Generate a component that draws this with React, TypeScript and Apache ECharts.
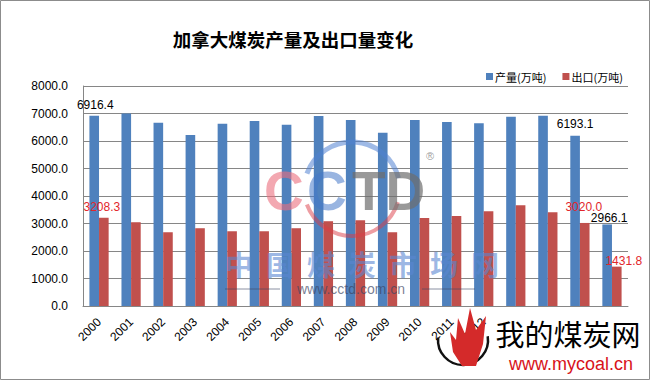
import React, { useEffect, useRef } from "react";
import * as echarts from "echarts";

const years = ["2000","2001","2002","2003","2004","2005","2006","2007","2008","2009","2010","2011","2012","2013","2014","2015","2016"];
const production = [6916.4, 7003, 6663, 6214, 6626, 6723, 6590, 6905, 6760, 6299, 6760, 6687, 6650, 6881, 6917, 6193.1, 2966.1];
const exports = [3208.3, 3046, 2682, 2828, 2718, 2718, 2828, 3083, 3119, 2682, 3204, 3277, 3447, 3665, 3410, 3020.0, 1431.8];
const yTicks = [0, 1000, 2000, 3000, 4000, 5000, 6000, 7000, 8000];
const seriesNames = ["产量(万吨)", "出口(万吨)"];
const cctdChars = ["中", "国", "煤", "炭", "市", "场", "网"];

const numFont = "'Liberation Sans', Arial, sans-serif";
const cjkFont = "'Noto Sans CJK SC', sans-serif";

const blueLabels: Record<number, any> = {
  0: { distance: 5, offset: [1, 0] },
  15: { distance: 6, offset: [0, 0] },
  16: { distance: 0, offset: [2, 0] },
};
const redLabels: Record<number, any> = {
  0: { distance: 5, offset: [-2, 0] },
  15: { distance: 10, offset: [-1, 0] },
  16: { distance: 0, offset: [7, 0] },
};

function buildData(values: number[], cfg: Record<number, any>, color: string) {
  return values.map((v, i) => {
    const c = cfg[i];
    if (!c) return v;
    return {
      value: v,
      label: {
        show: true,
        position: "top",
        distance: c.distance,
        offset: c.offset,
        color,
        fontSize: 12,
        fontFamily: numFont,
        formatter: (p: any) => Number(p.value).toFixed(1),
      },
    };
  });
}

const WZ = 100;

export default function App() {
  const ref = useRef<HTMLDivElement>(null);
  useEffect(() => {
    if (!ref.current) return;
    const chart = echarts.init(ref.current, null, { renderer: "svg" });
    const option: any = {
      animation: false,
      backgroundColor: "#ffffff",
      title: {
        text: "加拿大煤炭产量及出口量变化",
        left: 288,
        top: 22,
        textAlign: "center",
        textStyle: { fontFamily: cjkFont, fontSize: 18.5, fontWeight: "bold", color: "#000", lineHeight: 24 },
      },
      legend: {
        data: seriesNames,
        left: 481,
        top: 66,
        itemWidth: 7,
        itemHeight: 7,
        itemGap: 16,
        icon: "rect",
        textStyle: { fontFamily: cjkFont, fontSize: 11, color: "#000", padding: [0, 0, 0, -3] },
      },
      grid: { left: 83, right: 22, top: 86, bottom: 74, containLabel: false },
      xAxis: {
        type: "category",
        data: years,
        axisLine: { show: true, lineStyle: { color: "#868686", width: 1 } },
        axisTick: { show: false },
        axisLabel: { rotate: 45, margin: 14, fontSize: 12, fontFamily: numFont, color: "#000", interval: 0 },
      },
      yAxis: {
        type: "value",
        min: yTicks[0],
        max: yTicks[yTicks.length - 1],
        interval: 1000,
        axisLine: { show: true, lineStyle: { color: "#868686", width: 1 } },
        axisTick: { show: false },
        splitLine: { show: true, lineStyle: { color: "#868686", width: 1 } },
        axisLabel: {
          margin: 15,
          fontSize: 12,
          fontFamily: numFont,
          color: "#000",
          formatter: (v: number) => v.toFixed(1),
        },
      },
      series: [
        {
          name: seriesNames[0],
          type: "bar",
          barGap: "0%",
          barCategoryGap: "40%",
          itemStyle: { color: "#4F81BD" },
          data: buildData(production, blueLabels, "#000000"),
        },
        {
          name: seriesNames[1],
          type: "bar",
          barGap: "0%",
          barCategoryGap: "40%",
          itemStyle: { color: "#C0504D" },
          data: buildData(exports, redLabels, "#e2262b"),
        },
      ],
      graphic: [
        {
          type: "rect",
          z: 0,
          silent: true,
          shape: { x: 0.5, y: 0.5, width: 649, height: 379 },
          style: { fill: "none", stroke: "#8c8c8c", lineWidth: 1 },
        },
        // CCTD watermark
        { type: "arc", z: WZ, silent: true, shape: { cx: 352, cy: 190, r: 48, startAngle: Math.PI + 0.35, endAngle: 2 * Math.PI - 0.25 }, style: { stroke: "rgba(80,130,210,0.55)", lineWidth: 5, fill: "none" } },
        { type: "arc", z: WZ, silent: true, shape: { cx: 352, cy: 188, r: 48, startAngle: 0.3, endAngle: Math.PI - 0.35 }, style: { stroke: "rgba(220,60,70,0.5)", lineWidth: 4, fill: "none" } },
        { type: "text", z: WZ, silent: true, style: { text: "C", x: 264, y: 191, fill: "rgba(235,110,125,0.6)", fontSize: 55, fontWeight: "bold", fontFamily: numFont, verticalAlign: "middle" } },
        { type: "text", z: WZ, silent: true, style: { text: "C", x: 307, y: 191, fill: "rgba(70,120,200,0.55)", fontSize: 55, fontWeight: "bold", fontFamily: numFont, verticalAlign: "middle" } },
        { type: "text", z: WZ, silent: true, style: { text: "TD", x: 352, y: 191, fill: "rgba(110,110,110,0.7)", fontSize: 55, fontWeight: "bold", fontFamily: numFont, verticalAlign: "middle" } },
        { type: "text", z: WZ, silent: true, style: { text: "®", x: 430, y: 156, fill: "rgba(110,110,110,0.7)", fontSize: 11, fontFamily: numFont, align: "center", verticalAlign: "middle" } },
        ...cctdChars.map((ch, i) => ({
          type: "text",
          z: WZ,
          silent: true,
          style: { text: ch, x: 239 + i * 41, y: 264, fill: "rgba(90,135,210,0.6)", fontSize: 28, lineHeight: 27, fontWeight: "bold", fontFamily: cjkFont, align: "center", verticalAlign: "middle" },
        })),
        { type: "text", z: WZ, silent: true, style: { text: "www.cctd.com.cn", x: 351, y: 289, fill: "rgba(60,70,100,0.7)", fontSize: 14, lineHeight: 14, fontFamily: numFont, align: "center", verticalAlign: "middle" } },
        { type: "line", z: WZ, silent: true, shape: { x1: 225, y1: 289, x2: 280, y2: 289 }, style: { stroke: "rgba(60,70,100,0.6)", lineWidth: 1 } },
        { type: "line", z: WZ, silent: true, shape: { x1: 422, y1: 289, x2: 475, y2: 289 }, style: { stroke: "rgba(60,70,100,0.6)", lineWidth: 1 } },
        // mycoal logo
        { type: "rect", z: WZ + 1, silent: true, shape: { x: 492, y: 309, width: 154, height: 68 }, style: { fill: "#ffffff" } },
        { type: "arc", z: WZ + 1, silent: true, shape: { cx: 463, cy: 340, r: 25, startAngle: -0.15, endAngle: Math.PI + 0.1 }, style: { stroke: "#111", lineWidth: 2.5, fill: "none" } },
        {
          type: "polygon",
          z: WZ + 2,
          silent: true,
          shape: { points: [[462, 366], [453, 352], [450, 332], [456, 340], [458, 318], [465, 334], [470, 308], [476, 330], [486, 316], [483, 344], [476, 366]] },
          style: { fill: "#d42a2a" },
        },
        { type: "text", z: WZ + 2, silent: true, style: { text: "我的煤炭网", x: 568, y: 333, fill: "#000", fontSize: 29, fontFamily: cjkFont, align: "center", verticalAlign: "middle" } },
        { type: "text", z: WZ + 2, silent: true, style: { text: "www.mycoal.cn", x: 571, y: 364, fill: "#d8121b", fontSize: 18, fontFamily: numFont, align: "center", verticalAlign: "middle" } },
      ],
    };
    chart.setOption(option);
    return () => chart.dispose();
  }, []);
  return (
    <div style={{ position: "absolute", left: 0, top: 0, width: 650, height: 380 }}>
      <div ref={ref} style={{ width: 650, height: 380 }} />
    </div>
  );
}
